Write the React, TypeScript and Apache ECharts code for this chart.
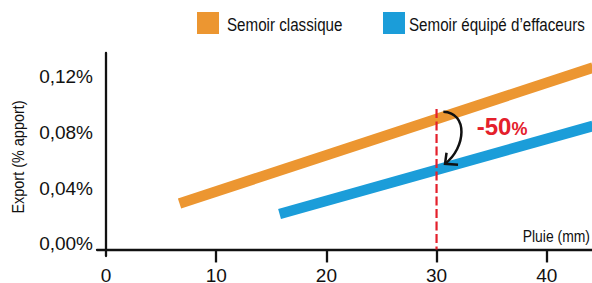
import React, { useEffect, useRef } from 'react';
import * as echarts from 'echarts';

// ---- data ----
const X_LABELS = [0, 10, 20, 30, 40];
const X_TICKS = [10, 20, 30, 40];
const Y_LABELS = [0, 0.04, 0.08, 0.12];
const SERIES_NAMES = ['Semoir classique', 'Semoir équipé d’effaceurs'];
const CLASSIQUE = [[6.67, 0.033], [44.2, 0.1307]];
const EFFACEURS = [[15.75, 0.0255], [44.2, 0.0888]];
const PLUIE_REPERE = [[30, 0.101], [30, 0]];
const REDUCTION = ['-50', '%'];
const ARROW_FROM = [30.62, 0.099];
const ARROW_TO = [30.77, 0.0616];
const LABEL_POS = [33.65, 0.0884];
const AXIS_NAMES = ['Export (% apport)', 'Pluie (mm)'];

const ORANGE = '#EC9631';
const BLUE = '#1B9DD9';
const RED = '#E4202B';
const INK = '#111111';
const SANS = "'Liberation Sans', Arial, sans-serif";
const CONDENSE = 0.82;

export default function App() {
  const ref = useRef<HTMLDivElement>(null);
  useEffect(() => {
    const chart = echarts.init(ref.current!, null, { renderer: 'svg' });
    const axisLineStyle = { color: INK, width: 2.3 };
    chart.setOption({
      animation: false,
      backgroundColor: '#ffffff',
      textStyle: { fontFamily: SANS },
      grid: { left: 97, right: 0, top: 53, bottom: 27, containLabel: false, outerBoundsMode: 'none' },
      xAxis: {
        type: 'value',
        min: -0.82,
        max: 44.11,
        splitLine: { show: false },
        axisLine: { show: true, onZero: true, lineStyle: axisLineStyle },
        axisTick: { show: true, customValues: X_TICKS, length: 13, inside: false, lineStyle: axisLineStyle },
        axisLabel: { customValues: X_LABELS, margin: 10, fontSize: 19, color: INK, fontFamily: SANS },
      },
      yAxis: {
        type: 'value',
        min: -0.0047,
        max: 0.1412,
        splitLine: { show: false },
        axisLine: { show: true, onZero: true, lineStyle: axisLineStyle },
        axisTick: { show: false },
        axisLabel: {
          customValues: Y_LABELS,
          formatter: (v: number) => v.toFixed(2).replace('.', ',') + '%',
          margin: 4,
          fontSize: 19,
          color: INK,
          fontFamily: SANS,
          verticalAlign: 'bottom',
          lineHeight: 11,
        },
      },
      series: [
        {
          type: 'line',
          name: SERIES_NAMES[0],
          data: CLASSIQUE,
          symbol: 'none',
          silent: true,
          itemStyle: { color: ORANGE },
          lineStyle: { color: ORANGE, width: 10.5, cap: 'butt' },
          z: 2,
        },
        {
          type: 'line',
          name: SERIES_NAMES[1],
          data: EFFACEURS,
          symbol: 'none',
          silent: true,
          itemStyle: { color: BLUE },
          lineStyle: { color: BLUE, width: 10.5, cap: 'butt' },
          z: 2,
        },
        {
          type: 'line',
          name: 'repere',
          data: PLUIE_REPERE,
          symbol: 'none',
          silent: true,
          itemStyle: { color: RED },
          lineStyle: { color: RED, width: 2.2, type: [9, 3.5] },
          z: 3,
        },
      ],
    });

    const px = (p: number[]) => chart.convertToPixel({ gridIndex: 0 }, p) as number[];
    const s = px(ARROW_FROM);
    const t = px(ARROW_TO);
    const l = px(LABEL_POS);
    const legendItem = (x: number, color: string, name: string, textGap: number) => ({
      type: 'group',
      x,
      y: 12,
      children: [
        { type: 'rect', shape: { x: 0, y: 0, width: 22, height: 22 }, style: { fill: color } },
        {
          type: 'text',
          x: 22 + textGap,
          y: 13,
          scaleX: CONDENSE,
          style: { text: name, fontSize: 18.5, fontFamily: SANS, fill: INK, align: 'left', verticalAlign: 'middle' },
        },
      ],
    });
    chart.setOption({
      graphic: [
        legendItem(197, ORANGE, SERIES_NAMES[0], 8),
        legendItem(383, BLUE, SERIES_NAMES[1], 4),
        {
          type: 'text',
          x: 18,
          y: 157,
          rotation: Math.PI / 2,
          scaleX: 0.85,
          style: {
            text: AXIS_NAMES[0],
            fontSize: 17,
            fontFamily: SANS,
            fill: INK,
            align: 'center',
            verticalAlign: 'middle',
          },
        },
        {
          type: 'text',
          x: 590,
          y: 236,
          scaleX: CONDENSE,
          style: {
            text: AXIS_NAMES[1],
            fontSize: 17,
            fontFamily: SANS,
            fill: INK,
            align: 'right',
            verticalAlign: 'middle',
          },
        },
        {
          type: 'bezierCurve',
          z: 10,
          shape: {
            x1: s[0], y1: s[1],
            cpx1: s[0] + 25, cpy1: s[1] + 1,
            cpx2: t[0] + 21, cpy2: t[1] - 16,
            x2: t[0], y2: t[1],
          },
          style: { stroke: INK, lineWidth: 2.5, fill: 'none' },
        },
        {
          type: 'polyline',
          z: 10,
          shape: { points: [[t[0] + 1.5, t[1] - 11], [t[0], t[1]], [t[0] + 13, t[1] + 1]] },
          style: { stroke: INK, lineWidth: 2.5, fill: 'none' },
        },
        {
          type: 'text',
          z: 10,
          x: l[0],
          y: l[1],
          style: {
            text: '{a|' + REDUCTION[0] + '}{b|' + REDUCTION[1] + '}',
            align: 'left',
            verticalAlign: 'middle',
            rich: {
              a: { fontSize: 24, fontWeight: 'bold', fontFamily: SANS, fill: RED, verticalAlign: 'bottom' },
              b: { fontSize: 18, fontWeight: 'bold', fontFamily: SANS, fill: RED, verticalAlign: 'bottom' },
            },
          },
        },
      ],
    });
    return () => chart.dispose();
  }, []);
  return (
    <div
      ref={ref}
      style={{ position: 'absolute', left: 0, top: 0, width: 592, height: 283, background: '#fff' }}
    />
  );
}
